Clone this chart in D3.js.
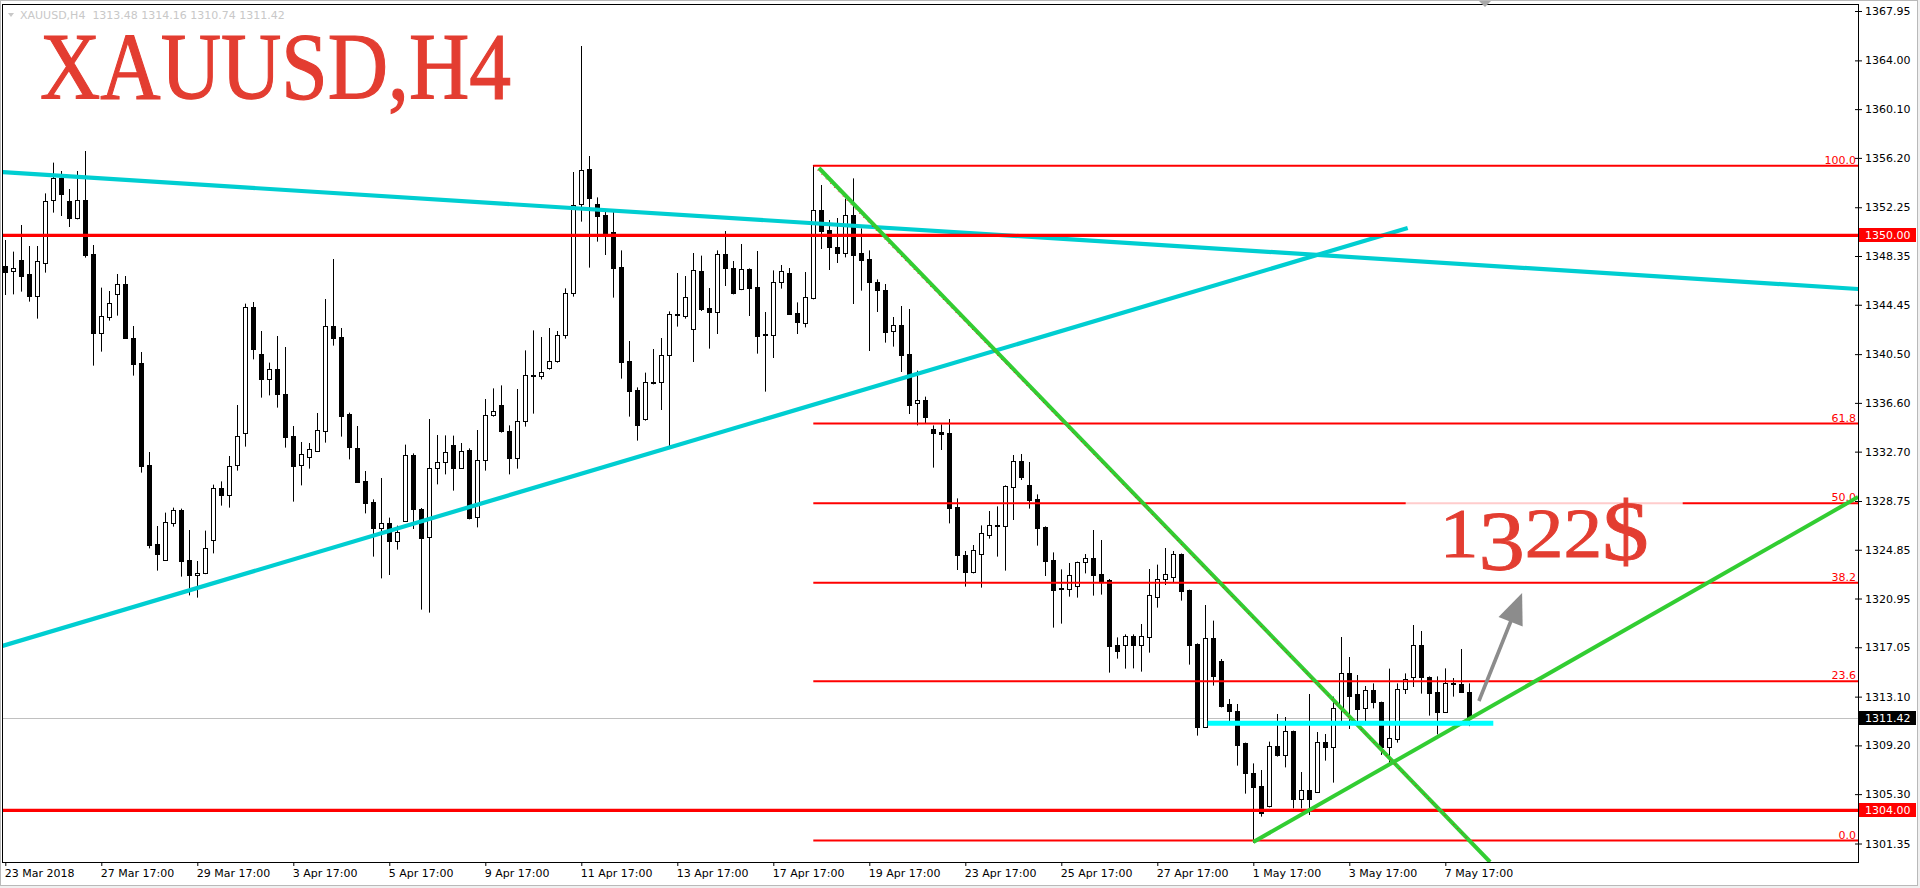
<!DOCTYPE html>
<html><head><meta charset="utf-8">
<script src="https://cdn.jsdelivr.net/npm/d3@7"></script>
<style>
html,body{margin:0;padding:0;background:#fff;overflow:hidden}
svg{display:block}
text{white-space:pre}
</style></head><body>
<svg id="c" width="1920" height="888"></svg>
<script>
// ---- data (XAUUSD H4, bar index 0 = 23 Mar 2018) ----
const openP = [1347.55,1347.12,1348.03,1346.91,1345.18,1347.82,1352.80,1354.62,1352.75,1351.42,
1352.83,1348.51,1342.16,1343.44,1345.28,1346.11,1341.79,1339.79,1331.63,1325.31,
1324.06,1326.96,1328.03,1324.03,1322.80,1322.96,1325.60,1329.79,1329.20,1331.60,
1334.16,1344.27,1340.51,1338.54,1339.31,1337.31,1333.98,1331.60,1332.30,1332.78,
1334.38,1342.75,1341.87,1335.71,1332.99,1330.35,1328.67,1326.56,1326.96,1325.52,
1327.12,1332.43,1328.11,1325.84,1331.39,1331.84,1333.23,1331.36,1332.83,1327.44,
1332.00,1335.60,1336.40,1334.32,1332.22,1335.12,1338.75,1338.72,1339.42,1339.92,
1342.00,1345.42,1352.48,1355.28,1352.48,1351.63,1350.24,1347.47,1339.95,1337.63,
1335.34,1338.19,1338.24,1340.40,1343.63,1343.58,1342.48,1347.12,1344.19,1343.90,
1348.51,1347.39,1345.68,1347.31,1345.87,1342.08,1342.06,1346.24,1346.99,1343.79,
1343.02,1345.02,1352.00,1350.43,1349.07,1348.62,1351.60,1348.56,1348.11,1346.27,
1345.63,1342.32,1342.83,1340.48,1336.56,1336.80,1334.51,1334.24,1334.16,1328.27,
1324.40,1323.10,1324.54,1326.06,1326.78,1326.78,1329.90,1331.92,1330.00,1328.91,
1326.67,1324.03,1321.76,1321.74,1321.92,1323.84,1324.16,1322.91,1322.43,1317.20,
1317.20,1317.92,1317.20,1317.84,1321.10,1322.48,1322.64,1324.51,1321.63,1317.31,
1310.70,1317.76,1315.95,1312.51,1311.95,1309.39,1306.96,1305.95,1304.35,1309.12,
1308.46,1310.35,1304.88,1305.63,1305.44,1309.44,1309.10,1312.19,1314.96,1313.31,
1312.16,1313.60,1312.67,1309.10,1309.74,1313.68,1314.64,1317.20,1314.64,1313.47,
1311.90,1314.22,1314.08,1313.48];
const highP = [1349.63,1348.70,1350.83,1349.15,1349.15,1353.36,1355.82,1355.15,1353.71,1355.15,
1356.75,1349.23,1345.82,1345.55,1346.91,1346.75,1342.75,1340.67,1332.67,1326.75,
1327.82,1328.22,1328.14,1326.43,1323.95,1326.38,1330.06,1330.32,1332.35,1336.43,
1344.54,1344.67,1342.35,1339.82,1341.95,1341.07,1334.75,1333.47,1333.39,1335.79,
1344.91,1348.11,1342.59,1335.82,1334.75,1331.15,1328.88,1330.59,1327.42,1326.78,
1333.26,1332.56,1328.19,1335.31,1334.03,1334.00,1333.98,1333.39,1332.96,1334.43,
1336.91,1337.76,1338.00,1334.80,1337.71,1340.80,1342.40,1341.87,1342.59,1342.35,
1345.76,1355.07,1365.15,1356.35,1353.04,1352.08,1352.08,1348.80,1341.55,1337.84,
1339.02,1340.91,1341.79,1343.92,1346.99,1346.75,1348.59,1348.38,1345.79,1348.80,
1350.35,1347.95,1349.31,1347.36,1348.75,1343.87,1347.20,1347.63,1347.39,1344.64,
1347.07,1355.63,1354.03,1351.23,1351.39,1352.94,1354.56,1350.56,1348.80,1346.48,
1346.11,1343.47,1344.35,1344.11,1339.18,1337.10,1334.80,1334.88,1335.31,1328.96,
1324.75,1325.23,1326.80,1327.95,1328.32,1330.00,1332.43,1332.51,1331.87,1329.28,
1326.72,1324.64,1323.28,1323.79,1323.90,1324.51,1326.43,1325.63,1322.51,1317.84,
1318.08,1318.08,1318.91,1323.31,1323.66,1324.99,1324.75,1324.55,1321.66,1317.36,
1320.43,1319.18,1316.11,1312.91,1312.51,1309.42,1307.76,1307.23,1309.50,1311.71,
1311.47,1310.38,1307.07,1313.31,1310.27,1310.11,1313.10,1317.87,1316.27,1314.83,
1313.95,1314.16,1312.70,1315.34,1314.16,1314.96,1318.83,1318.35,1314.72,1314.72,
1315.36,1314.59,1316.91,1314.16];
const lowP = [1345.23,1345.28,1345.50,1344.70,1343.34,1347.02,1351.82,1351.55,1350.67,1351.28,
1348.22,1339.58,1340.70,1343.18,1343.58,1341.74,1338.78,1331.02,1324.96,1323.18,
1323.98,1326.70,1322.70,1321.20,1321.02,1322.90,1324.56,1328.38,1328.22,1331.18,
1333.10,1340.08,1337.02,1337.20,1336.22,1333.02,1328.70,1330.00,1331.34,1332.70,
1333.42,1341.18,1333.90,1332.08,1330.22,1327.76,1324.30,1322.56,1322.83,1324.86,
1327.10,1326.51,1320.06,1319.82,1330.08,1330.88,1329.58,1331.31,1327.28,1326.64,
1331.18,1335.50,1334.22,1330.88,1331.34,1334.70,1335.74,1338.48,1339.26,1339.82,
1341.74,1345.10,1351.10,1347.42,1349.50,1348.43,1345.02,1338.54,1335.50,1333.58,
1335.18,1338.08,1336.03,1332.91,1342.70,1343.34,1339.87,1343.95,1340.94,1342.11,
1345.95,1345.28,1345.62,1343.55,1340.54,1337.50,1340.19,1345.74,1343.63,1342.11,
1342.64,1344.88,1348.91,1347.23,1347.79,1348.24,1344.51,1345.58,1340.75,1343.87,
1341.42,1341.10,1339.07,1335.71,1334.80,1334.96,1331.42,1332.83,1326.96,1323.23,
1321.90,1322.96,1321.82,1325.74,1324.30,1323.18,1327.23,1330.43,1328.14,1325.18,
1322.75,1318.62,1318.94,1321.10,1321.02,1322.96,1321.18,1321.26,1315.02,1316.14,
1315.34,1315.36,1315.10,1316.62,1320.22,1322.03,1322.24,1320.78,1315.66,1309.98,
1310.66,1313.98,1312.24,1311.02,1307.58,1305.34,1301.42,1303.50,1304.24,1308.30,
1307.44,1304.16,1304.16,1303.63,1305.39,1307.98,1306.22,1311.10,1310.51,1310.96,
1311.10,1312.16,1308.43,1307.76,1309.42,1313.31,1313.87,1313.34,1311.58,1310.08,
1311.84,1313.10,1313.44,1310.74];
const closeP = [1347.10,1347.39,1346.78,1345.18,1347.92,1352.75,1354.56,1353.34,1351.42,1352.80,
1348.46,1342.22,1343.55,1344.56,1346.08,1341.79,1339.74,1331.58,1325.26,1324.54,
1327.04,1328.03,1323.98,1322.80,1322.99,1324.99,1329.76,1329.20,1331.55,1333.95,
1344.27,1340.94,1338.54,1339.28,1337.34,1333.90,1331.58,1332.51,1332.88,1334.43,
1342.75,1341.82,1335.58,1333.10,1330.30,1328.62,1326.56,1326.96,1325.52,1326.24,
1332.40,1328.08,1325.76,1331.36,1331.84,1332.64,1331.36,1332.72,1327.42,1332.00,
1335.60,1335.92,1334.38,1332.22,1335.12,1338.80,1338.80,1339.04,1339.95,1342.00,
1345.36,1352.40,1355.23,1353.02,1351.58,1350.03,1347.42,1339.90,1337.58,1334.86,
1338.24,1338.24,1340.40,1343.71,1343.68,1345.04,1347.20,1344.14,1343.87,1348.48,
1347.36,1345.39,1347.28,1345.82,1341.98,1342.03,1346.24,1347.12,1343.74,1343.07,
1345.04,1352.00,1350.38,1349.10,1348.62,1351.60,1348.46,1348.06,1346.30,1345.66,
1342.30,1342.80,1340.46,1336.46,1336.80,1335.50,1334.22,1334.14,1328.22,1324.40,
1323.10,1324.80,1326.16,1326.80,1326.83,1329.95,1331.92,1330.70,1328.86,1326.62,
1323.98,1321.66,1321.71,1322.80,1323.84,1324.16,1322.86,1322.38,1317.18,1316.78,
1317.92,1317.20,1317.92,1321.23,1322.48,1322.91,1324.51,1321.58,1317.26,1310.70,
1317.76,1314.78,1312.38,1311.92,1309.26,1306.96,1305.90,1303.82,1309.12,1308.46,
1310.32,1304.88,1305.63,1304.88,1309.44,1309.10,1312.19,1314.96,1313.18,1312.08,
1313.60,1312.64,1309.10,1309.76,1313.68,1314.48,1317.20,1314.70,1313.42,1311.90,
1314.22,1314.08,1313.50,1311.42];

const timeLabels = ["23 Mar 2018","27 Mar 17:00","29 Mar 17:00","3 Apr 17:00","5 Apr 17:00","9 Apr 17:00",
"11 Apr 17:00","13 Apr 17:00","17 Apr 17:00","19 Apr 17:00","23 Apr 17:00","25 Apr 17:00",
"27 Apr 17:00","1 May 17:00","3 May 17:00","7 May 17:00"];
const timeLabelBars = [0,12,24,36,48,60,72,84,96,108,120,132,144,156,168,180];
const priceTicks = ["1367.95","1364.00","1360.10","1356.20","1352.25","1348.35","1344.45","1340.50",
"1336.60","1332.70","1328.75","1324.85","1320.95","1317.05","1313.10","1309.20","1305.30","1301.35"];

const levelPrices = [1350.00, 1304.00];
const lastPrice = 1311.42;
const fibLevels = [100.0, 61.8, 50.0, 38.2, 23.6, 0.0];
const fibBars = [101, 183];
const fibPrices = [1355.57, 1301.59];
// trend lines: [bar1, price1, bar2, price2]
const cyanLines = [[-0.66,1355.07,231.6,1345.71],[-0.66,1317.10,175.3,1350.59]];
const greenLines = [[101.7,1355.39,185.6,1299.87],[156.0,1301.47,231.6,1329.07]];
const supportSeg = [150.3,1310.97,186.0,1310.97];
const arrowSeg = [184.2,1312.75,189.6,1321.39];
const targetText = "1322$";
const targetPos = [179.3, 1324.27];
const titleText = "XAUUSD,H4";
const headerText = "XAUUSD,H4  1313.48 1314.16 1310.74 1311.42";

// ---- drawing ----
const W=1920,H=888;
const P={l:3,t:4,r:1858,b:862};
const svg=d3.select("#c");
const x=d3.scaleLinear().domain([0,183]).range([5.3,1469.3]);
const y=d3.scaleLinear().domain([1367.95,1301.35]).range([11,843.5]);
const px=v=>Math.round(x(v))+0.5;
const py=v=>Math.round(y(v))+0.5;
const FONT="DejaVu Sans";
const RED="#ff0000", TITLE="#e33d31";

svg.append("rect").attr("width",W).attr("height",H).attr("fill","#f0f0f0");
svg.append("rect").attr("x",0.5).attr("y",0.5).attr("width",1917).attr("height",885)
  .attr("fill","#fff").attr("stroke","#b9b9b9");

svg.append("defs").append("clipPath").attr("id","clip").append("rect")
  .attr("x",P.l).attr("y",P.t).attr("width",P.r-P.l).attr("height",P.b-P.t);
const g=svg.append("g").attr("clip-path","url(#clip)");

// current price line
g.append("line").attr("x1",P.l).attr("x2",P.r).attr("y1",py(lastPrice)).attr("y2",py(lastPrice))
  .attr("stroke","#c0c0c0").attr("stroke-width",1);

// candles
const idx=d3.range(openP.length);
g.append("g").selectAll("line").data(idx).join("line")
  .attr("x1",i=>px(i)).attr("x2",i=>px(i))
  .attr("y1",i=>y(highP[i])).attr("y2",i=>y(lowP[i]))
  .attr("stroke","#000").attr("stroke-width",1);
const bodies=g.append("g");
idx.forEach(i=>{
  const o=openP[i],c=closeP[i];
  const t=py(Math.max(o,c)), b=py(Math.min(o,c));
  const bull=c>=o;
  if(b-t<1){
    bodies.append("line").attr("x1",px(i)-2.5).attr("x2",px(i)+2.5).attr("y1",t).attr("y2",t)
      .attr("stroke","#000").attr("stroke-width",1);
  } else {
    bodies.append("rect").attr("x",px(i)-2).attr("y",t).attr("width",4).attr("height",b-t)
      .attr("fill",bull?"#fff":"#000").attr("stroke","#000").attr("stroke-width",1);
  }
});

// cyan trend lines
g.append("g").selectAll("line").data(cyanLines).join("line")
  .attr("x1",d=>x(d[0])).attr("y1",d=>y(d[1])).attr("x2",d=>x(d[2])).attr("y2",d=>y(d[3]))
  .attr("stroke","#00ced1").attr("stroke-width",4.2);

// horizontal red levels
g.append("g").selectAll("line").data(levelPrices).join("line")
  .attr("x1",P.l).attr("x2",P.r).attr("y1",d=>y(d)).attr("y2",d=>y(d))
  .attr("stroke",RED).attr("stroke-width",3.4);

// fibonacci
const fibP=l=>fibPrices[1]+(fibPrices[0]-fibPrices[1])*l/100;
const fg=g.append("g");
fg.selectAll("line.fib").data(fibLevels).join("line").attr("class","fib")
  .attr("x1",x(fibBars[0])).attr("x2",P.r).attr("y1",d=>y(fibP(d))).attr("y2",d=>y(fibP(d)))
  .attr("stroke",RED).attr("stroke-width",2);
fg.selectAll("text").data(fibLevels).join("text")
  .attr("x",P.r-2).attr("y",d=>y(fibP(d))-2).attr("text-anchor","end")
  .attr("font-family",FONT).attr("font-size",11).attr("fill",RED)
  .text(d=>d.toFixed(1));

// green lines
g.append("g").selectAll("line").data(greenLines).join("line")
  .attr("x1",d=>x(d[0])).attr("y1",d=>y(d[1])).attr("x2",d=>x(d[2])).attr("y2",d=>y(d[3]))
  .attr("stroke","#32cd32").attr("stroke-width",4);
// fib diagonal (dotted)
g.append("line").attr("x1",x(fibBars[0])).attr("y1",y(fibPrices[0])).attr("x2",x(fibBars[1])).attr("y2",y(fibPrices[1]))
  .attr("stroke",RED).attr("stroke-width",1).attr("stroke-dasharray","1,5");

// support segment
g.append("line").attr("x1",x(supportSeg[0])).attr("x2",x(supportSeg[2]))
  .attr("y1",y(supportSeg[1])).attr("y2",y(supportSeg[3]))
  .attr("stroke","#00ffff").attr("stroke-width",5);

// arrow
{
  const x1=x(arrowSeg[0]),y1=y(arrowSeg[1]),x2=x(arrowSeg[2]),y2=y(arrowSeg[3]);
  const a=Math.atan2(y2-y1,x2-x1), L=31, Wd=13;
  const bx=x2-L*Math.cos(a), by=y2-L*Math.sin(a);
  g.append("line").attr("x1",x1).attr("y1",y1).attr("x2",bx+6*Math.cos(a)).attr("y2",by+6*Math.sin(a))
    .attr("stroke","#8c8c8c").attr("stroke-width",3.6);
  const pts=[[x2,y2],[bx+Wd*Math.sin(a),by-Wd*Math.cos(a)],[bx-Wd*Math.sin(a),by+Wd*Math.cos(a)]];
  g.append("polygon").attr("points",pts.map(p=>p.join(",")).join(" ")).attr("fill","#8c8c8c");
}

// target text with faded background
{
  const tg=g.append("g");
  const bgR=tg.append("rect");
  const t=tg.append("text").attr("x",x(targetPos[0])).attr("y",y(targetPos[1]))
    .attr("font-family","Liberation Serif, serif").attr("fill",TITLE)
    .attr("stroke",TITLE).attr("stroke-width",0.9)
    .attr("textLength",209).attr("lengthAdjust","spacingAndGlyphs");
  t.append("tspan").attr("font-size",70).text(targetText[0]);
  t.append("tspan").attr("font-size",84).attr("dy",13).text(targetText[1]);
  t.append("tspan").attr("font-size",70).attr("dy",-13).text(targetText[2]+targetText[3]);
  t.append("tspan").attr("font-size",84).attr("dy",3).text(targetText[4]);
  const bb=t.node().getBBox();
  bgR.attr("x",bb.x-34).attr("y",bb.y-12).attr("width",bb.width+68).attr("height",bb.height+4)
    .attr("fill","#fff").attr("opacity",0.8);
}

// frame & axes
svg.append("line").attr("x1",P.l-0.5).attr("x2",P.r).attr("y1",P.t+0.5).attr("y2",P.t+0.5).attr("stroke","#000");
svg.append("line").attr("x1",P.l-0.5).attr("x2",P.l-0.5).attr("y1",P.t).attr("y2",P.b).attr("stroke","#000");

const yAxis=d3.axisRight(y).tickValues(priceTicks.map(Number)).tickFormat((d,i)=>priceTicks[i])
  .tickSize(4).tickPadding(3);
const ya=svg.append("g").attr("transform",`translate(${P.r},0)`).call(yAxis);
ya.select(".domain").attr("d",`M0.5,${P.t}V${P.b+1}`).attr("stroke","#000");
ya.selectAll("text").attr("font-family",FONT).attr("font-size",11).attr("fill","#000");
ya.selectAll(".tick line").attr("x1",-3);

const xAxis=d3.axisBottom(x).tickValues(timeLabelBars).tickFormat((d,i)=>timeLabels[i]).tickSize(4).tickPadding(3);
const xa=svg.append("g").attr("transform",`translate(0,${P.b})`).call(xAxis);
xa.select(".domain").attr("d",`M${P.l-1},0.5H${P.r+1}`).attr("stroke","#000");
xa.selectAll("text").attr("font-family",FONT).attr("font-size",11).attr("fill","#000")
  .attr("text-anchor","start").attr("dx",-1);

// price tags
const tags=[[levelPrices[0],RED],[levelPrices[1],RED],[lastPrice,"#000"]];
const tg=svg.append("g").selectAll("g").data(tags).join("g")
  .attr("transform",d=>`translate(${P.r+1},${Math.round(y(d[0]))})`);
tg.append("rect").attr("x",0).attr("y",-7).attr("width",57).attr("height",14).attr("fill",d=>d[1]);
tg.append("text").attr("x",6).attr("y",4).attr("font-family",FONT).attr("font-size",11)
  .attr("fill","#fff").text(d=>d[0].toFixed(2));

// header
svg.append("path").attr("d","M8,13 L14,13 L11,17 Z").attr("fill","#c8c8c8");
svg.append("text").attr("x",20).attr("y",19).attr("font-family",FONT).attr("font-size",11)
  .attr("fill","#c8c8c8").text(headerText);
// shift marker
svg.append("path").attr("d","M1479,1 L1491,1 L1485,7 Z").attr("fill","#a8a8a8");

// title
svg.append("text").attr("x",40).attr("y",99).attr("font-family","Liberation Serif, serif")
  .attr("font-size",96).attr("fill",TITLE).attr("stroke",TITLE).attr("stroke-width",1.2)
  .attr("textLength",471).attr("lengthAdjust","spacingAndGlyphs").text(titleText);
</script>
</body></html>
